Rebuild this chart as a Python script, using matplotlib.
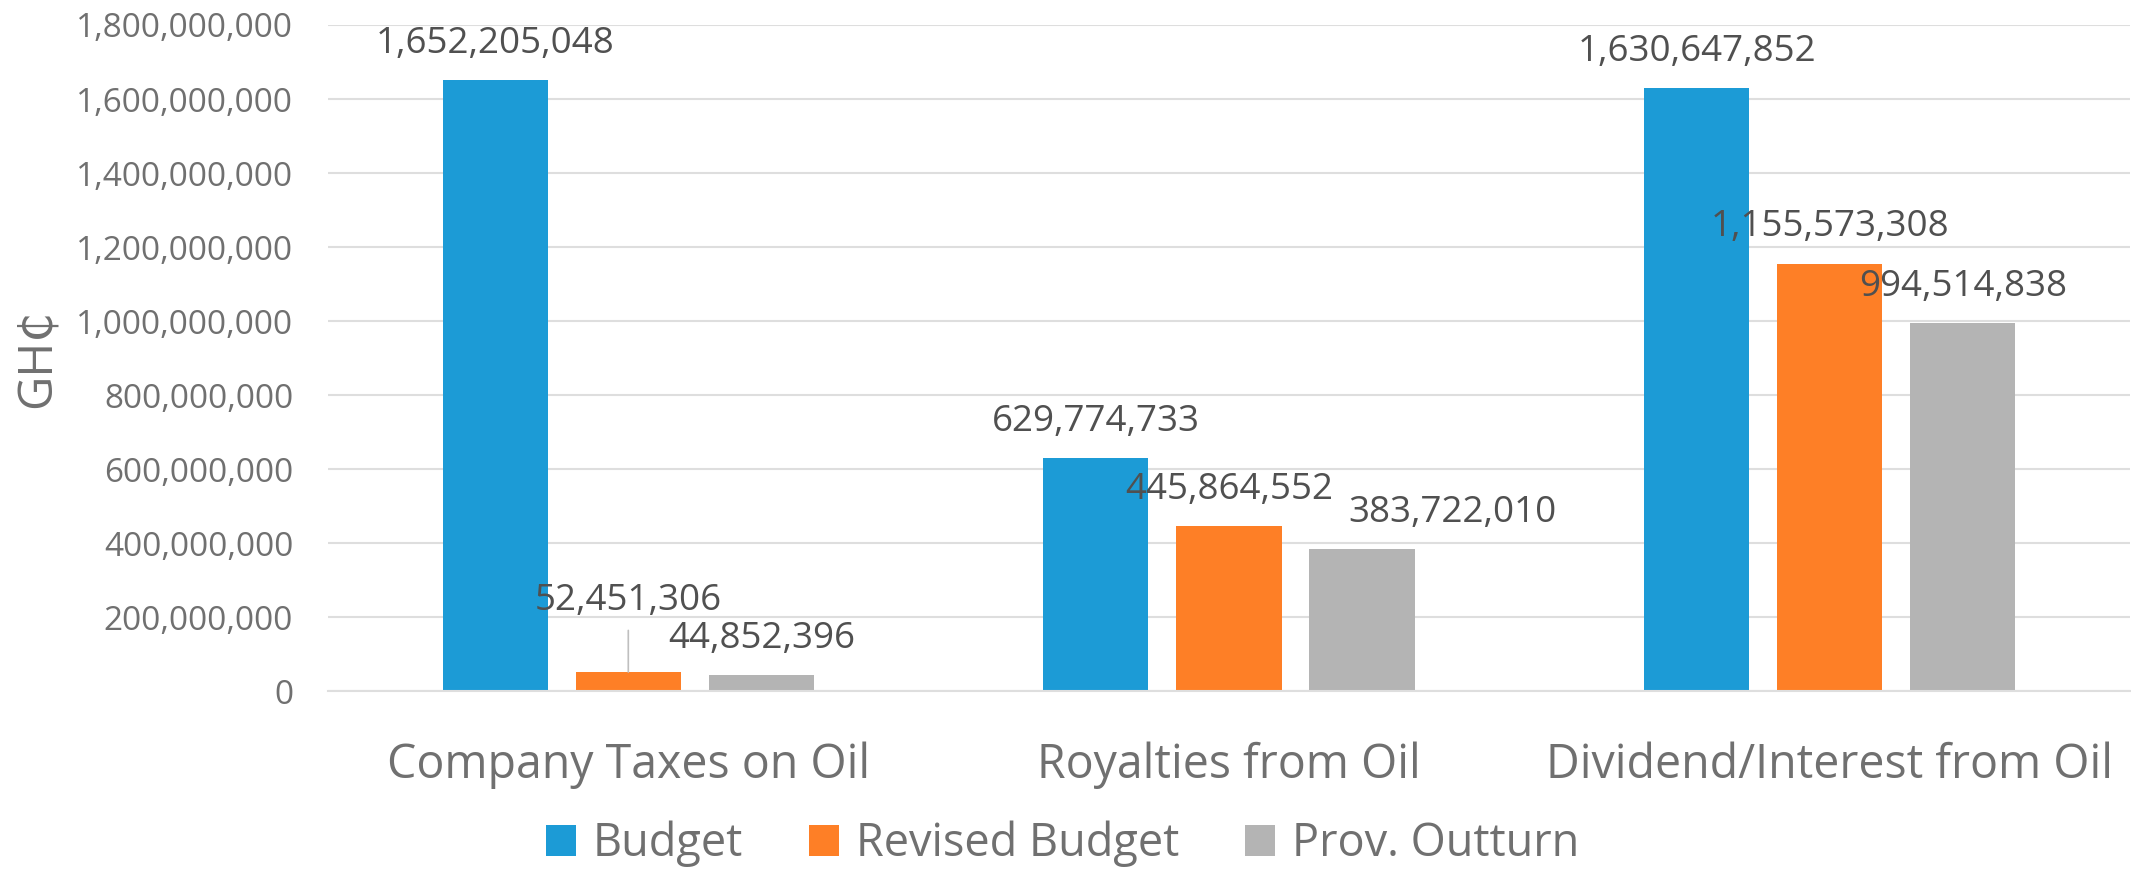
import matplotlib

matplotlib.use("Agg")
import matplotlib.pyplot as plt
import numpy as np
from matplotlib.ticker import FuncFormatter

plt.rcParams["font.family"] = ["Open Sans", "DejaVu Sans"]

CATEGORIES = ["Company Taxes on Oil", "Royalties from Oil", "Dividend/Interest from Oil"]
SERIES = ["Budget", "Revised Budget", "Prov. Outturn"]
BUDGET = [1652205048, 629774733, 1630647852]
REVISED = [52451306, 445864552, 1155573308]
OUTTURN = [44852396, 383722010, 994514838]

COLORS = ["#1C9BD6", "#FE7F26", "#B4B4B4"]
AXIS_TXT = "#707070"
LABEL_TXT = "#505050"
GRID = "#DEDEDE"

fig = plt.figure(figsize=(21.31, 8.71), dpi=100)
ax = fig.add_axes([0.1539, 0.2061, 0.8456, 0.7652])

x = np.arange(len(CATEGORIES))
pitch, width = 0.2215, 0.175
values = [BUDGET, REVISED, OUTTURN]

# label offsets (points) -- most sit just above the bar, two were moved by hand
offsets = {(1, 0): (0, 51), (2, 1): (65, 26)}

for s, (name, vals, col) in enumerate(zip(SERIES, values, COLORS)):
    xs = x + (s - 1) * pitch
    ax.bar(xs, vals, width, color=col, label=name, zorder=2)
    for i, (xi, v) in enumerate(zip(xs, vals)):
        dx, dy = offsets.get((s, i), (0, 26))
        ax.annotate(f"{v:,}", xy=(xi, v), xytext=(dx, dy), textcoords="offset points",
                    ha="center", va="center", fontsize=26.5, color=LABEL_TXT, zorder=4)

# leader line for the lifted label
ax.annotate("", xy=(x[0], REVISED[0]), xytext=(0, 30), textcoords="offset points",
            arrowprops=dict(arrowstyle="-", color="#BFBFBF", lw=1.2, shrinkA=0, shrinkB=0))

ax.set_xlim(-0.5, 2.5)
ax.set_ylim(0, 1.8e9)
ax.set_yticks(np.arange(0, 1.8e9 + 1, 2e8))
ax.yaxis.set_major_formatter(FuncFormatter(lambda v, _: f"{int(v):,}"))
ax.set_xticks(x)
ax.set_xticklabels(CATEGORIES)
ax.tick_params(axis="y", length=0, pad=25, labelsize=24, labelcolor=AXIS_TXT)
ax.tick_params(axis="x", length=0, pad=36, labelsize=33.5, labelcolor=AXIS_TXT)
ax.grid(axis="y", color=GRID, linewidth=1.5, zorder=0)
ax.set_axisbelow(True)
for side in ("left", "right", "top"):
    ax.spines[side].set_visible(False)
ax.spines["bottom"].set_color(GRID)
ax.spines["bottom"].set_linewidth(1.5)

fig.text(0.0174, 1 - 358 / 871, "GH₵", rotation=90, ha="center", va="center",
         fontsize=34, color=AXIS_TXT)

fig.legend(loc="center", bbox_to_anchor=(0.4986, 0.031), ncol=3, frameon=False,
           fontsize=32.5, handlelength=0.665, handleheight=0.665, handletextpad=0.37,
           columnspacing=1.46, labelcolor=AXIS_TXT)

fig.savefig("out.png", dpi=100, facecolor="white")
